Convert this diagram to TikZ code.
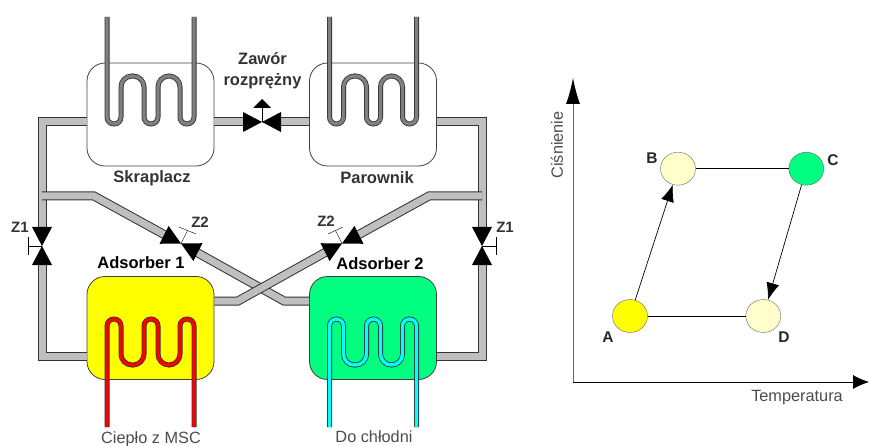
\documentclass[tikz,border=0pt]{standalone}
\usepackage{fontspec}
\setmainfont{Liberation Sans}
\usetikzlibrary{arrows.meta}
\usetikzlibrary{shapes.geometric}
\definecolor{cpipe}{gray}{.75}
\definecolor{ccold}{rgb}{0,1,.5}
\definecolor{cmid}{rgb}{1,1,.8}
\definecolor{chot}{rgb}{1,1,0}
\definecolor{cwater}{rgb}{0,1,1}
\tikzset{
    vessel/.style={draw=black!75, line width=.8, rounded corners=18, minimum width=127, minimum height=103, inner sep=0},
    pipe/.style={draw=black!80, line width=1, double=cpipe, double distance=7, line join=miter},
    coilgray/.style={draw=black!80, line width=.8, double=black!50, double distance=3.4},
    coilred/.style={draw=black!80, line width=.8, double=red, double distance=3.4},
    coilcyan/.style={draw=black!80, line width=.8, double=cwater, double distance=3.4},
    title/.style={font=\fontsize{16.5}{21}\selectfont\bfseries, inner sep=0, text=black!80},
    letter/.style={font=\fontsize{15.5}{17}\selectfont\bfseries, inner sep=0, text=black!85},
    tag/.style={font=\fontsize{15}{17}\selectfont\bfseries, inner sep=0, text=black!80},
    thin label/.style={font=\fontsize{16.3}{19}\selectfont, inner sep=0, text=black!70},
    state/.style={ellipse, draw=black!60, minimum width=35, minimum height=33, inner sep=0},
    flow/.style={-{Latex[length=17,width=13]}, line width=.7},
    axis/.style={line width=.8}
}
\newcommand*{\coil}[5]{% style, x shift, leg end, first turn, second turn
    \draw[#1, shift={(#2, 0)}] (107, #3) [rounded corners=7]--(107, #4)--(121, #4)
        [rounded corners=11]--(121, #5)--(144, #5)
        [rounded corners=7]--(144, #4)--(158, #4)
        [rounded corners=11]--(158, #5)--(180, #5)
        [rounded corners=7]--(180, #4)--(194, #4)--(194, #3);
}
\newcommand*{\valve}[2]{% centre, angle
    \begin{scope}[shift={(#1)}, rotate=#2]
        \fill (0, 0)--(-19, -10)--(-19, 10)--cycle;
        \fill (0, 0)--(19, -10)--(19, 10)--cycle;
    \end{scope}
}

\begin{document}
\begin{tikzpicture}[x=1pt, y=-1pt]
    \useasboundingbox (0, 0) rectangle (869, 446);
    % vessels
    \node[vessel] (skraplacz) at (150.5, 114.5) {};
    \node[vessel] (parownik) at (373, 114.5) {};
    \node[vessel, fill=chot] (adsorberA) at (150.5, 328) {};
    \node[vessel, fill=ccold] (adsorberB) at (373, 328) {};
    % pipes
    \coordinate (zleft) at (42, 246);
    \coordinate (zright) at (482, 246);
    \coordinate (exp) at (262, 122);
    \coordinate (zcrossA) at (181, 243.5);
    \coordinate (zcrossB) at (342, 243.5);
    \draw[pipe] (skraplacz.east |- exp)--(244, 122);
    \draw[pipe] (280, 122)--(parownik.west |- exp);
    \draw[pipe] (skraplacz.west |- exp)-|(42, 229);
    \draw[pipe] (42, 263)|-(adsorberA.west |- 0, 356);
    \draw[pipe] (parownik.east |- exp)-|(482, 229);
    \draw[pipe] (482, 263)|-(adsorberB.east |- 0, 356);
    \draw[pipe] (42, 196)--(94, 196)--(165, 235);
    \draw[pipe] (197, 252.5)--(284, 301)--(adsorberB.west |- 0, 301);
    \draw[pipe] (adsorberA.east |- 0, 301)--(238, 301)--(326, 252);
    \draw[pipe] (358, 235)--(429, 196)--(482, 196);
    % coils
    \coil{coilgray}{0}{17}{124}{76}
    \coil{coilgray}{222.5}{17}{124}{76}
    \coil{coilred}{0}{427}{319}{365}
    \coil{coilcyan}{222.5}{427}{319}{365}
    % valves
    \valve{exp}{0}
    \draw (exp)--(262, 106);
    \fill (253, 108)--(271, 108)--(262, 99)--cycle;
    \valve{zleft}{90}
    \draw (zleft)--(28, 246) (28, 237)--(28, 255);
    \valve{zright}{90}
    \draw (zright)--(496, 246) (496, 237)--(496, 255);
    \valve{zcrossA}{-27}
    \draw (zcrossA)--(187.5, 230.5) (179, 227)--(196, 234);
    \valve{zcrossB}{27}
    \draw (zcrossB)--(335.5, 230.5) (328, 234)--(343, 227);
    % labels
    \node[title, align=center] (lzawor) at (262.5, 70.5) {Zawór\\rozprężny};
    \node[title] (lskr) at (152, 178) {Skraplacz};
    \node[title] (lpar) at (377, 178) {Parownik};
    \node[title, text=black] (lads1) at (141, 263) {Adsorber 1};
    \node[title, text=black] (lads2) at (380, 264) {Adsorber 2};
    \node[tag] (lzl) at (20, 227) {Z1};
    \node[tag] (lzr) at (505, 227) {Z1};
    \node[tag] (lzca) at (200, 222) {Z2};
    \node[tag] (lzcb) at (326, 221) {Z2};
    \node[thin label] (lheat) at (151, 439) {Ciepło z MSC};
    \node[thin label] (lcool) at (374, 437) {Do chłodni};
    % chart
    \coordinate (origin) at (573, 382);
    \coordinate (ytop) at (573, 78);
    \coordinate (xend) at (869, 382);
    \draw[axis, draw=black!60, -{Latex[black, length=26, width=14]}] (origin)--(ytop);
    \draw[axis, -{Latex[length=16, width=14]}] (origin)--(xend);
    \node[state, fill=chot] (ptA) at (630, 316) {};
    \node[state, fill=cmid] (ptB) at (678, 168.7) {};
    \node[state, fill=ccold] (ptC) at (806.3, 168.7) {};
    \node[state, fill=cmid] (ptD) at (763.3, 316) {};
    \draw[line width=.8] (ptB)--(ptC);
    \draw[line width=.8] (ptA)--(ptD);
    \draw[flow] (ptA)--(ptB);
    \draw[flow] (ptC)--(ptD);
    \node[letter] (la) at (608, 337) {A};
    \node[letter] (lb) at (652, 158) {B};
    \node[letter] (lc) at (833, 160) {C};
    \node[letter] (ld) at (784, 337) {D};
    \node[thin label, rotate=90] (lp) at (557, 145) {Ciśnienie};
    \node[thin label] (lt) at (797, 398) {Temperatura};
\end{tikzpicture}
\end{document}
